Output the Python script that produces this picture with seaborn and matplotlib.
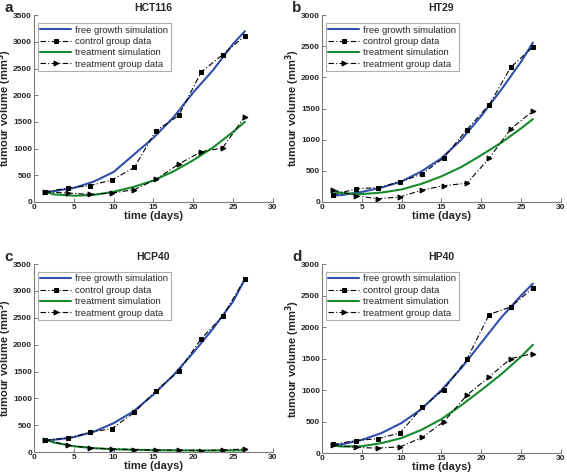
import numpy as np
import pandas as pd
import matplotlib
matplotlib.use("Agg")
import matplotlib.pyplot as plt
import seaborn as sns

sns.set_theme(style="white")
plt.rcParams['font.family'] = ['Liberation Sans', 'DejaVu Sans']

# measurement days
days = [1.4, 4.3, 7.0, 9.8, 12.6, 15.3, 18.2, 21.0, 23.7, 26.5]
# simulation sample days
sim_days = [1.4, 2.5, 5, 7.5, 10, 12.5, 15, 17.5, 20, 22.5, 25, 26.5]

panels = ["a", "b", "c", "d"]
titles = ["HCT116", "HT29", "HCP40", "HP40"]
ymax = [3500, 3000, 3500, 3000]

control_a = [186, 262, 305, 410, 646, 1330, 1622, 2430, 2760, 3110]
treat_a = [186, 165, 140, 165, 230, 420, 710, 940, 1010, 1600]
free_sim_a = [180, 200, 260, 380, 560, 880, 1200, 1580, 2050, 2470, 2960, 3200]
treat_sim_a = [190, 140, 115, 130, 190, 280, 400, 570, 780, 1020, 1310, 1500]

control_b = [112, 210, 230, 320, 450, 710, 1160, 1560, 2160, 2490]
treat_b = [190, 100, 50, 80, 190, 260, 300, 700, 1170, 1460]
free_sim_b = [100, 110, 160, 230, 330, 490, 700, 1000, 1380, 1800, 2250, 2560]
treat_sim_b = [170, 140, 125, 150, 200, 290, 410, 560, 750, 950, 1180, 1330]

control_c = [230, 260, 370, 440, 740, 1140, 1510, 2110, 2530, 3220]
treat_c = [230, 130, 80, 60, 50, 40, 40, 30, 40, 60]
free_sim_c = [220, 230, 280, 380, 540, 760, 1070, 1430, 1850, 2300, 2800, 3220]
treat_sim_c = [240, 180, 110, 75, 55, 45, 38, 34, 32, 32, 33, 35]

control_d = [140, 200, 230, 320, 730, 1010, 1490, 2200, 2320, 2620]
treat_d = [130, 90, 80, 100, 250, 500, 920, 1210, 1500, 1580]
free_sim_d = [120, 140, 210, 320, 480, 700, 1000, 1350, 1750, 2150, 2500, 2690]
treat_sim_d = [120, 105, 110, 160, 240, 370, 540, 760, 1000, 1250, 1530, 1720]

controls = [control_a, control_b, control_c, control_d]
treats = [treat_a, treat_b, treat_c, treat_d]
free_sims = [free_sim_a, free_sim_b, free_sim_c, free_sim_d]
treat_sims = [treat_sim_a, treat_sim_b, treat_sim_c, treat_sim_d]

BLUE = "#2f4fae"
GREEN = "#168a2c"
GRAY = "#7a7a7a"

fig = plt.figure(figsize=(5.67, 4.75), dpi=100)
positions = [
    [0.060, 0.575, 0.421, 0.393],
    [0.568, 0.575, 0.421, 0.393],
    [0.060, 0.048, 0.421, 0.396],
    [0.568, 0.046, 0.421, 0.398],
]

for i in range(4):
    ax = fig.add_axes(positions[i])
    sns.lineplot(x=sim_days, y=free_sims[i], ax=ax, color=BLUE, lw=1.5,
                 label="free growth simulation")
    sns.lineplot(x=days, y=controls[i], ax=ax, color="black", lw=0.8,
                 linestyle=(0, (5, 2, 1, 2)), marker="s", markersize=3,
                 markeredgecolor="black", label="control group data")
    sns.lineplot(x=sim_days, y=treat_sims[i], ax=ax, color=GREEN, lw=1.5,
                 label="treatment simulation")
    sns.lineplot(x=days, y=treats[i], ax=ax, color="black", lw=0.8,
                 linestyle=(0, (5, 2, 1, 2)), marker=">", markersize=3.5,
                 markeredgecolor="black", label="treatment group data")
    ax.set_xlim(0, 30)
    ax.set_ylim(0, ymax[i])
    ax.set_xticks([0, 5, 10, 15, 20, 25, 30])
    ax.set_yticks(np.arange(0, ymax[i] + 1, 500))
    for s in ["top", "right"]:
        ax.spines[s].set_visible(False)
    for s in ["left", "bottom"]:
        ax.spines[s].set_color(GRAY)
        ax.spines[s].set_linewidth(0.8)
    ax.tick_params(direction="in", length=3, width=0.7, color=GRAY,
                   labelsize=6, pad=1.5, left=True, bottom=True)
    for lab in ax.get_xticklabels() + ax.get_yticklabels():
        lab.set_fontweight("bold")
    ax.set_xlabel("time (days)", fontsize=8, fontweight="bold", labelpad=0)
    ax.set_ylabel("tumour volume (mm$^\\mathbf{3}$)", fontsize=8,
                  fontweight="bold")
    ax.yaxis.set_label_coords(-0.082, 0.5)
    ax.set_title(titles[i], fontsize=7.5, fontweight="bold", pad=3)
    leg = ax.legend(loc="upper left", bbox_to_anchor=(0.015, 0.96),
                    fontsize=6.8, frameon=True, fancybox=False,
                    handlelength=3.2, handletextpad=0.5, borderpad=0.3,
                    labelspacing=0.25, borderaxespad=0.0)
    leg.get_frame().set_edgecolor("#9a9a9a")
    leg.get_frame().set_linewidth(0.8)
    ax.text(-0.125, 1.075, panels[i], transform=ax.transAxes,
            fontsize=11, fontweight="bold", ha="left", va="top")

fig.savefig("out.png", dpi=100)
